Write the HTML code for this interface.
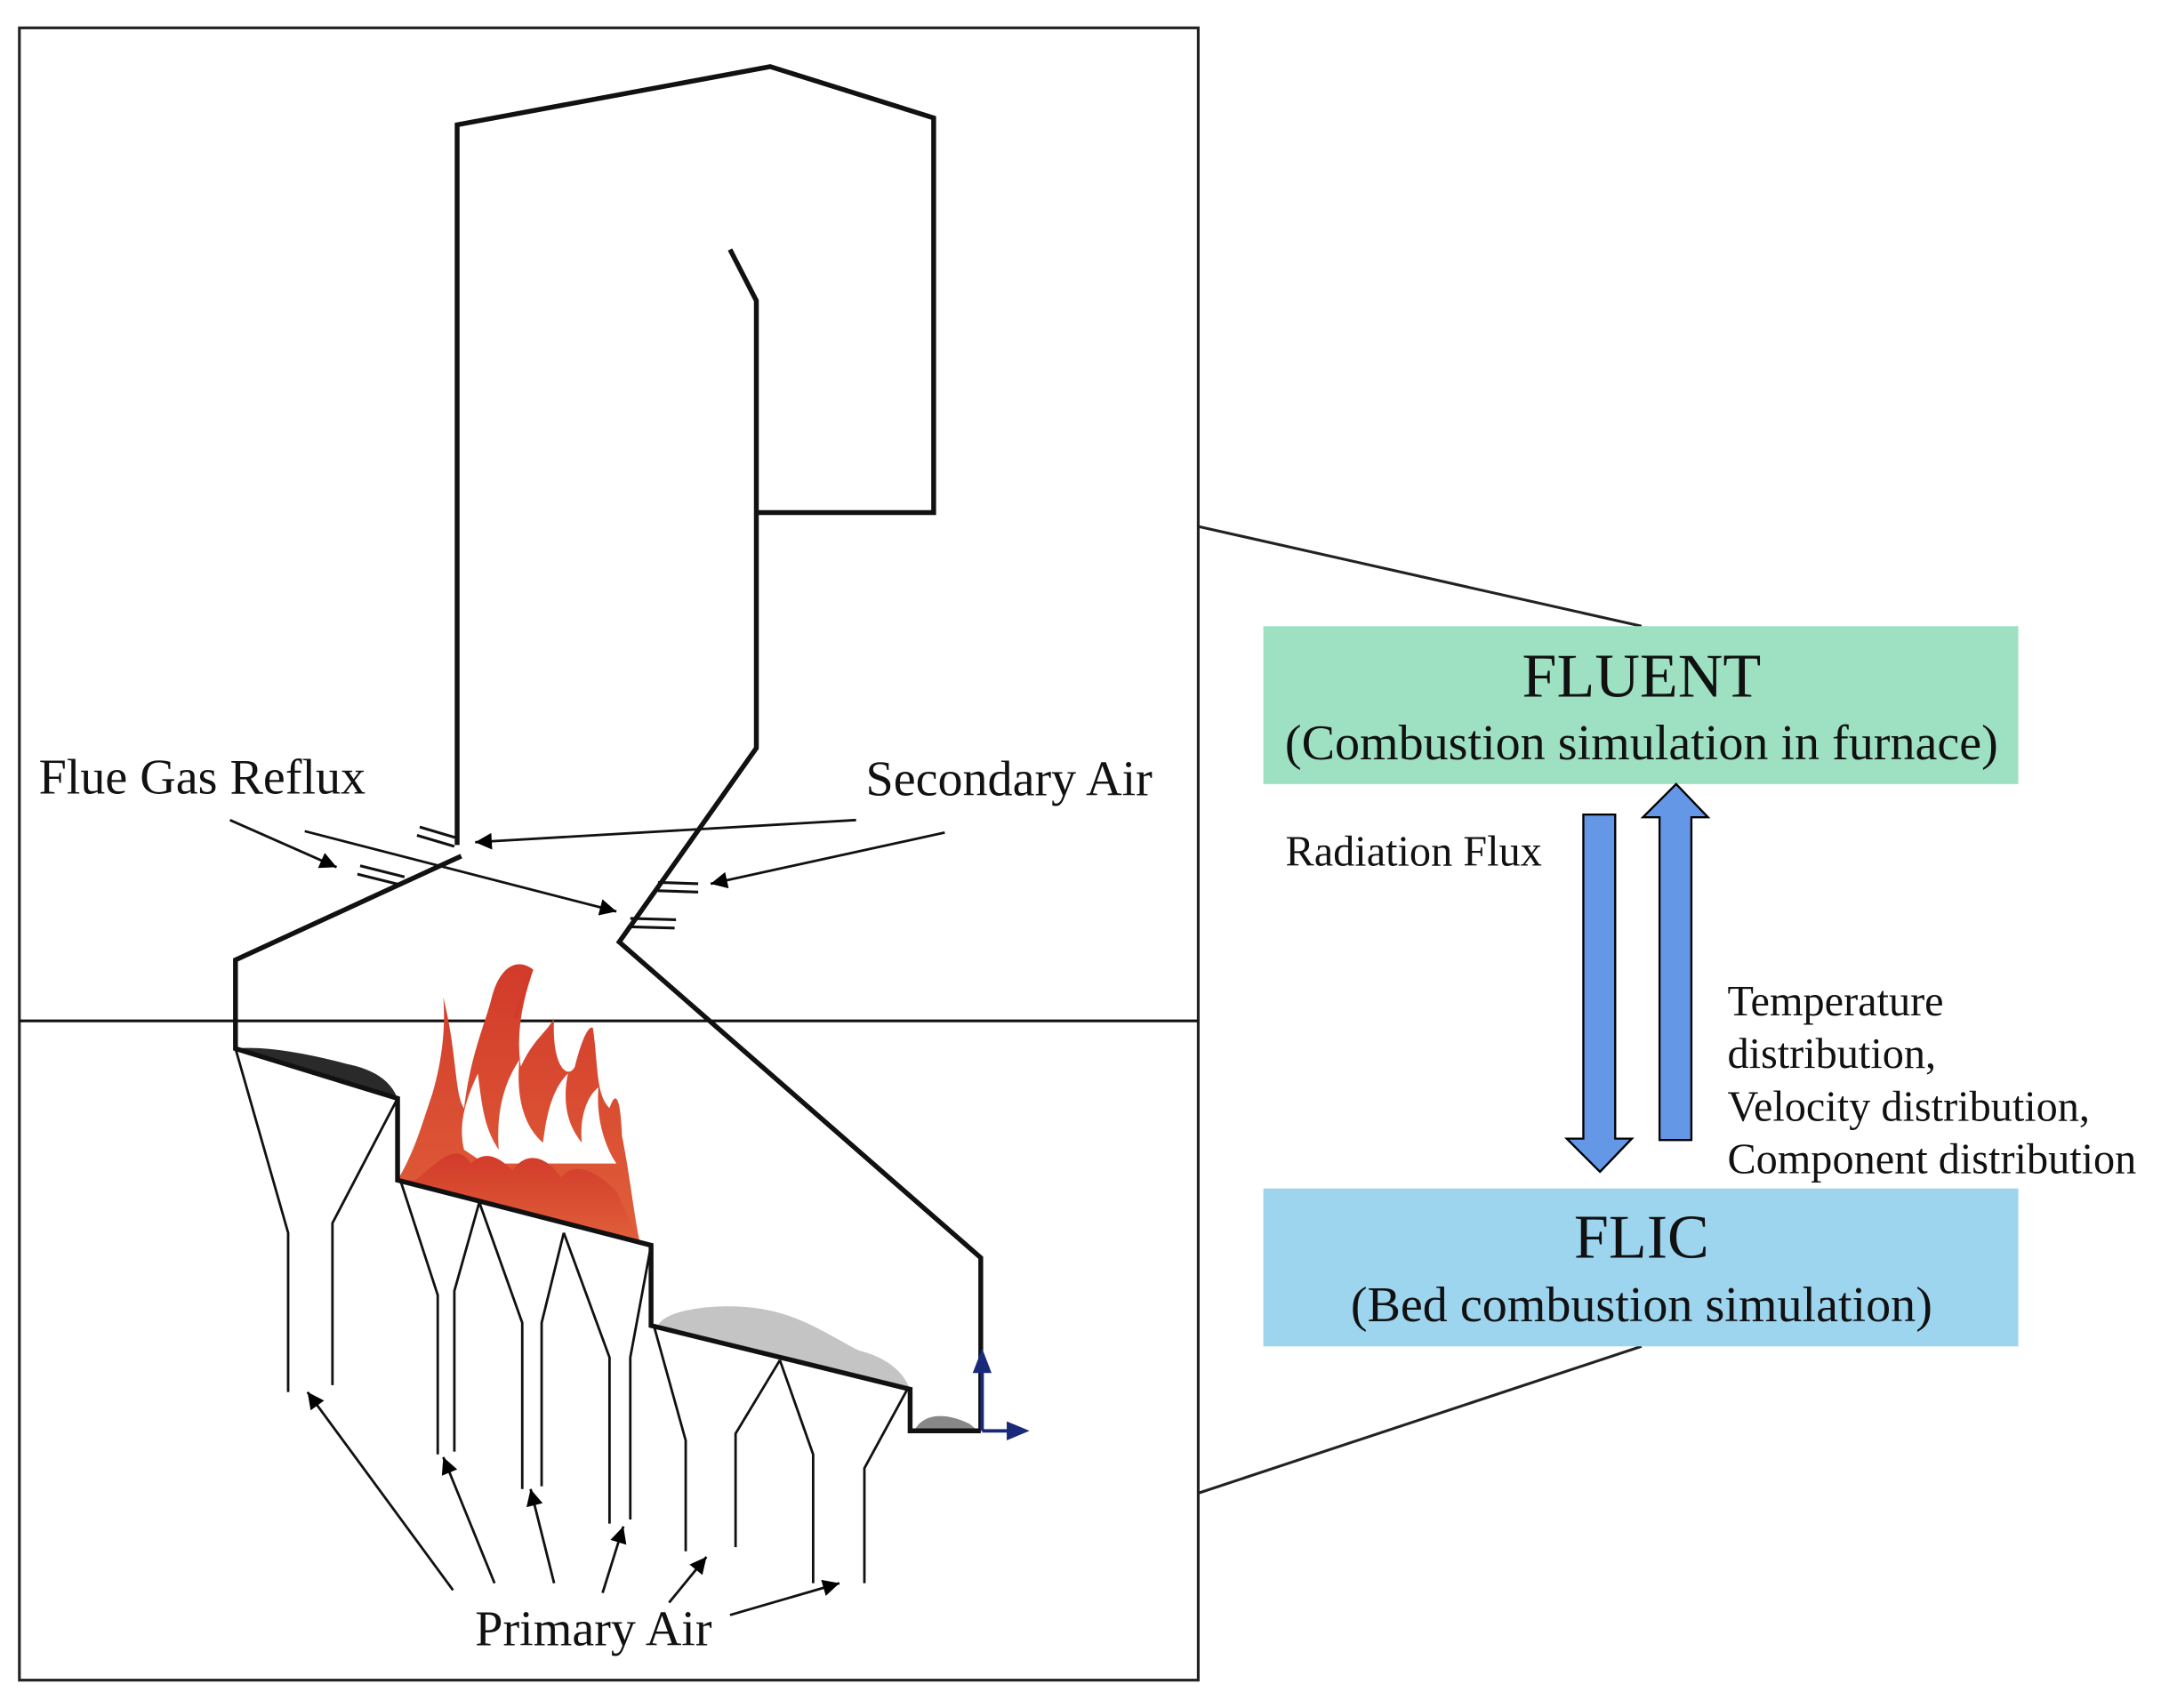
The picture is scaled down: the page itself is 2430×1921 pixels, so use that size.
<!DOCTYPE html>
<html><head><meta charset="utf-8"><style>html,body{margin:0;padding:0;background:#fff}svg{display:block}</style></head><body>
<svg width="2430" height="1921" viewBox="0 0 1560 1233" xmlns="http://www.w3.org/2000/svg" font-family="Liberation Serif, serif">
<defs>
<marker id="ah2" viewBox="0 0 10 10" refX="10" refY="5" markerWidth="14" markerHeight="12" orient="auto" markerUnits="userSpaceOnUse"><path d="M0,0 L10,5 L0,10 z" fill="#000"/></marker>
<linearGradient id="fg" x1="0" y1="1" x2="0" y2="0"><stop offset="0" stop-color="#e0603a"/><stop offset="1" stop-color="#d23a2a"/></linearGradient>
</defs>
<rect x="14" y="20" width="851" height="1193" fill="none" stroke="#222" stroke-width="2"/>
<line x1="14" y1="737" x2="865" y2="737" stroke="#111" stroke-width="2"/>
<!-- flames -->
<path d="M287,852 C300,830 305,810 312,790 C318,770 322,745 320,720 C330,760 328,790 335,800 C340,760 350,740 355,720 C360,700 372,690 385,700 C378,720 372,745 376,770 C385,750 395,745 400,735 C398,770 410,780 415,770 C420,750 425,740 428,742 C432,770 430,790 440,800 C445,785 448,795 449,820 C455,850 458,880 462,897 Z" fill="url(#fg)"/>
<path d="M383,702 C380,712 376,722 372,735" stroke="#d23a2a" stroke-width="2" fill="none"/>
<path d="M335,830 C330,810 338,790 345,775 C348,800 350,815 360,830 C358,800 365,780 375,765 C372,795 380,815 392,825 C395,800 400,785 410,775 C405,800 412,815 420,825 C418,805 425,790 432,785 C430,810 438,830 445,840 L350,840 Z" fill="#fff"/>
<path d="M300,852 C320,835 330,825 340,840 C350,830 360,835 370,845 C380,830 395,835 405,850 C415,838 430,845 445,860 L462,897 L287,852 Z" fill="url(#fg)"/>
<!-- ash -->
<path d="M170,757 C190,755 220,760 250,768 C270,772 282,780 287,793 L170,757 Z" fill="#2a2a2a"/>
<path d="M475,957 C480,945 520,940 550,945 C580,950 600,965 620,975 C640,980 652,990 657,1003 Z" fill="#c4c4c4"/>
<path d="M660,1033 C665,1022 680,1018 700,1028 L706,1033 Z" fill="#888"/>
<!-- furnace outline -->
<g fill="none" stroke="#111" stroke-width="3.5" stroke-linejoin="miter">
<path d="M330,610 L330,90 L556,48 L674,85 L674,370 L545,370"/>
<path d="M527,180 L546,217 L546,540 L447,680 L708,908 L708,1033"/>
<path d="M333,618 L170,693 L170,757 L287,793 L287,852 L470,899 L470,957 L657,1003 L657,1033 L708,1033"/>
</g>
<!-- nozzles -->
<g fill="none" stroke="#111" stroke-width="2">
<path d="M303,597 L330,605 M301,603 L328,611"/>
<path d="M260,625 L292,633 M258,631 L290,639"/>
<path d="M475,637 L504,638 M475,643 L504,644"/>
<path d="M455,663 L488,664 M453,669 L487,670"/>
</g>
<!-- axis arrows -->
<g stroke="#1a2a7a" stroke-width="2.5" fill="#1a2a7a">
<line x1="709" y1="1033" x2="709" y2="985"/><path d="M704,990 L709,977 L714,990 Z"/>
<line x1="709" y1="1033" x2="732" y2="1033"/><path d="M728,1028 L740,1033 L728,1038 Z"/>
</g>
<!-- funnels -->
<g fill="none" stroke="#111" stroke-width="1.8">
<path d="M170,757 L208,890 L208,1005 M287,793 L240,883 L240,1000"/>
<path d="M289,852 L316,935 L316,1050 M346,868 L328,932 L328,1048"/>
<path d="M346,868 L377,955 L377,1075 M407,890 L391,955 L391,1073"/>
<path d="M407,890 L440,980 L440,1100 M470,899 L455,980 L455,1097"/>
<path d="M472,957 L495,1040 L495,1120 M563,982 L531,1035 L531,1117"/>
<path d="M563,982 L587,1050 L587,1143 M655,1003 L624,1060 L624,1143"/>
</g>
<!-- arrows -->
<g stroke="#111" stroke-width="1.8" marker-end="url(#ah2)">
<line x1="166" y1="592" x2="243" y2="626"/>
<line x1="220" y1="600" x2="445" y2="658"/>
<line x1="618" y1="592" x2="343" y2="608"/>
<line x1="682" y1="601" x2="513" y2="638"/>
<line x1="327" y1="1148" x2="222" y2="1005"/>
<line x1="357" y1="1143" x2="320" y2="1052"/>
<line x1="400" y1="1143" x2="383" y2="1075"/>
<line x1="435" y1="1150" x2="450" y2="1102"/>
<line x1="483" y1="1157" x2="510" y2="1124"/>
<line x1="527" y1="1166" x2="606" y2="1143"/>
</g>
<g font-size="36" fill="#111">
<text x="28" y="573">Flue Gas Reflux</text>
<text x="625" y="574">Secondary Air</text>
<text x="343" y="1188">Primary Air</text>
</g>
<!-- right side -->
<line x1="865" y1="380" x2="1185" y2="452" stroke="#222" stroke-width="2"/>
<line x1="865" y1="1078" x2="1185" y2="972" stroke="#222" stroke-width="2"/>
<rect x="912" y="452" width="545" height="114" fill="#9ee0c2"/>
<rect x="912" y="858" width="545" height="114" fill="#9dd4ee"/>
<g fill="#111" text-anchor="middle">
<text x="1185" y="503" font-size="45">FLUENT</text>
<text x="1185" y="548" font-size="36">(Combustion simulation in furnace)</text>
<text x="1185" y="908" font-size="45">FLIC</text>
<text x="1185" y="954" font-size="36">(Bed combustion simulation)</text>
</g>
<path d="M1143,588 L1166,588 L1166,822 L1178,822 L1155,846 L1131,822 L1143,822 Z" fill="#6497e6" stroke="#000" stroke-width="1.5"/>
<path d="M1198,823 L1221,823 L1221,590 L1233,590 L1210,566 L1186,590 L1198,590 Z" fill="#6497e6" stroke="#000" stroke-width="1.5"/>
<g font-size="31" fill="#111">
<text x="928" y="625">Radiation Flux</text>
<text x="1247" y="733">Temperature</text>
<text x="1247" y="771">distribution,</text>
<text x="1247" y="809">Velocity distribution,</text>
<text x="1247" y="847">Component distribution</text>
</g>
</svg>
</body></html>
